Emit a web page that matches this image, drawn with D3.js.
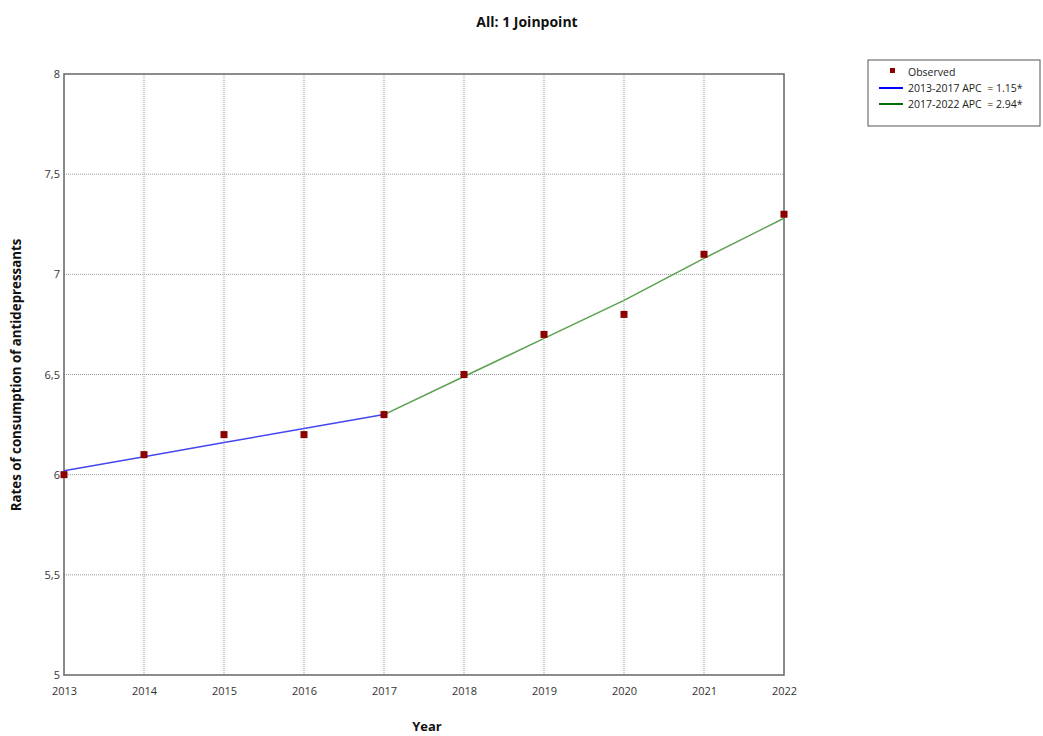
<!DOCTYPE html>
<html><head><meta charset="utf-8">
<script src="https://cdn.jsdelivr.net/npm/d3@7"></script>
<style>body{margin:0;background:#fff}svg{display:block;font-family:"Open Sans","Noto Sans",sans-serif}</style>
</head><body>
<script>
const years = [2013,2014,2015,2016,2017,2018,2019,2020,2021,2022];
const observed = [6.0,6.1,6.2,6.2,6.3,6.5,6.7,6.8,7.1,7.3];
const seg1Years = [2013,2014,2015,2016,2017];
const seg1Fit = [6.02,6.09,6.16,6.23,6.30];
const seg2Years = [2017,2018,2019,2020,2021,2022];
const seg2Fit = [6.30,6.49,6.68,6.87,7.08,7.28];
const yTicks = [5,5.5,6,6.5,7,7.5,8];
const legendLabels = ["Observed","2013-2017 APC  = 1.15*","2017-2022 APC  = 2.94*"];

const W=1043,H=736;
const svg=d3.select("body").append("svg").attr("width",W).attr("height",H);
const L=64,R=784,T=74,B=675;
const x=d3.scaleLinear().domain([2013,2022]).range([L,R]);
const y=d3.scaleLinear().domain([5,8]).range([B,T]);

// grid
svg.append("g").selectAll("line").data(years.slice(1,-1)).join("line")
 .attr("x1",d=>x(d)).attr("x2",d=>x(d)).attr("y1",T).attr("y2",B)
 .attr("stroke","#999").attr("stroke-dasharray","1,1").attr("stroke-width",1);
svg.append("g").selectAll("line").data(yTicks.slice(1,-1)).join("line")
 .attr("x1",L).attr("x2",R).attr("y1",d=>y(d)).attr("y2",d=>y(d))
 .attr("stroke","#999").attr("stroke-dasharray","1,1").attr("stroke-width",1);

// axes (labels only)
const xa=svg.append("g").attr("transform",`translate(0,${B})`).call(d3.axisBottom(x).tickValues(years).tickFormat(d3.format("d")).tickSize(0).tickPadding(12));
const ya=svg.append("g").attr("transform",`translate(${L},0)`).call(d3.axisLeft(y).tickValues(yTicks).tickFormat(d=>String(d).replace(".",",")).tickSize(0).tickPadding(4));
[xa,ya].forEach(a=>{a.select(".domain").remove();a.selectAll("text").attr("font-size",11).attr("fill","#333").attr("font-family","'Open Sans','Noto Sans',sans-serif");});

// border
svg.append("rect").attr("x",L).attr("y",T).attr("width",R-L).attr("height",B-T)
 .attr("fill","none").attr("stroke","#666").attr("stroke-width",1.5);

const line=d3.line().x(d=>x(d[0])).y(d=>y(d[1]));
svg.append("path").datum(seg1Years.map((d,i)=>[d,seg1Fit[i]])).attr("d",line)
 .attr("fill","none").attr("stroke","#4646f0").attr("stroke-width",1.5);
svg.append("path").datum(seg2Years.map((d,i)=>[d,seg2Fit[i]])).attr("d",line)
 .attr("fill","none").attr("stroke","#5aa04e").attr("stroke-width",1.5);

svg.append("g").selectAll("rect").data(years).join("rect")
 .attr("x",(d)=>x(d)-3.5).attr("y",(d,i)=>y(observed[i])-3.5).attr("width",7).attr("height",7)
 .attr("fill","#8b0000");

// titles
svg.append("text").attr("x",527).attr("y",27).attr("text-anchor","middle").attr("font-size",14).attr("font-weight","bold").attr("fill","#111").text("All: 1 Joinpoint");
svg.append("text").attr("x",427).attr("y",731).attr("text-anchor","middle").attr("font-size",13).attr("font-weight","bold").attr("fill","#111").text("Year");
svg.append("text").attr("transform","translate(21,375) rotate(-90)").attr("text-anchor","middle").attr("font-size",13.3).attr("font-weight","bold").attr("fill","#111").text("Rates of consumption of antidepressants");

// legend
const lg=svg.append("g");
lg.append("rect").attr("x",868).attr("y",60).attr("width",172).attr("height",66).attr("fill","#fff").attr("stroke","#555").attr("stroke-width",1);
lg.append("rect").attr("x",890).attr("y",68).attr("width",5).attr("height",5).attr("fill","#8b0000");
lg.append("line").attr("x1",879).attr("x2",903).attr("y1",88).attr("y2",88).attr("stroke","#0000ff").attr("stroke-width",2);
lg.append("line").attr("x1",879).attr("x2",903).attr("y1",104).attr("y2",104).attr("stroke","#007000").attr("stroke-width",2);
lg.selectAll("text").data(legendLabels).join("text").attr("x",908).attr("y",(d,i)=>76+i*16)
 .attr("font-size",10.5).attr("fill","#222").style("white-space","pre").text(d=>d);
</script>
</body></html>
